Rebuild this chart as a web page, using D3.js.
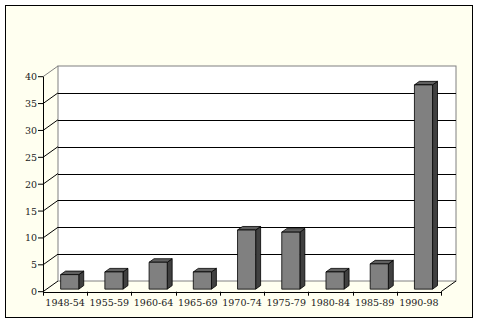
<!DOCTYPE html>
<html>
<head>
<meta charset="utf-8">
<script src="https://cdn.jsdelivr.net/npm/d3@7"></script>
<style>
	body { margin: 0; background: #fff; }
	svg { display: block; }
	text { font-family: "DejaVu Serif", serif; font-size: 9.5px; fill: #222; }
</style>
</head>
<body>
<svg id="chart" width="479" height="323"></svg>
<script>
// data
const periods = ["1948-54", "1955-59", "1960-64", "1965-69", "1970-74", "1975-79", "1980-84", "1985-89", "1990-98"];
const counts = [2.7, 3.2, 5, 3.2, 11, 10.6, 3.2, 4.7, 38];
const yTicks = [0, 5, 10, 15, 20, 25, 30, 35, 40];

const svg = d3.select("#chart");

// depth offset of the back wall
const dx = 15, dy = -10.7;

const x = d3.scaleBand().domain(periods).range([43, 441]).padding(0);
const y = d3.scaleLinear().domain([0, 40]).range([291.7, 76.7]);

// point on the chart at depth d (0 = front, 1 = back wall)
function pt(px, v, d) {
	return [px + dx * d, y(v) + dy * d];
}
function poly(points) {
	return "M" + points.map(p => p.join(",")).join("L") + "Z";
}

// frame
svg.append("rect")
	.attr("x", 5.5).attr("y", 5.5)
	.attr("width", 467).attr("height", 312)
	.attr("fill", "#fffff0")
	.attr("stroke", "#000");

const x0 = x.range()[0], x1 = x.range()[1];

// back wall
let bl = pt(x0, 0, 1), tr = pt(x1, 40, 1);
svg.append("rect")
	.attr("x", bl[0]).attr("y", tr[1])
	.attr("width", tr[0] - bl[0]).attr("height", bl[1] - tr[1])
	.attr("fill", "#fff")
	.attr("stroke", "#808080");

// grid lines on the back wall
svg.append("g").selectAll("line")
	.data(yTicks.filter(t => t > 0 && t < 40))
	.enter().append("line")
	.attr("x1", d => pt(x0, d, 1)[0])
	.attr("x2", d => pt(x1, d, 1)[0])
	.attr("y1", d => Math.round(pt(x0, d, 1)[1]) + 0.5)
	.attr("y2", d => Math.round(pt(x0, d, 1)[1]) + 0.5)
	.attr("stroke", "#000");

// diagonals from the value axis to the back wall
svg.append("g").selectAll("line")
	.data(yTicks)
	.enter().append("line")
	.attr("x1", d => pt(x0, d, 0)[0])
	.attr("y1", d => pt(x0, d, 0)[1])
	.attr("x2", d => pt(x0, d, 1)[0])
	.attr("y2", d => pt(x0, d, 1)[1])
	.attr("stroke", d => d == 40 ? "#808080" : "#000");

// right floor edge
svg.append("line")
	.attr("x1", pt(x1, 0, 0)[0]).attr("y1", pt(x1, 0, 0)[1])
	.attr("x2", pt(x1, 0, 1)[0]).attr("y2", pt(x1, 0, 1)[1])
	.attr("stroke", "#000");

// bars
const bw = x.bandwidth() * 0.41;
const f0 = 0.24, f1 = 0.57;
const bars = svg.append("g").selectAll("g")
	.data(periods.map((p, i) => ({ p: p, v: counts[i] })))
	.enter().append("g");

function left(d) { return x(d.p) + x.bandwidth() / 2 - bw / 2 + 1; }

bars.append("path") // side
	.attr("d", d => {
		let r = left(d) + bw;
		return poly([pt(r, 0, f0), pt(r, 0, f1), pt(r, d.v, f1), pt(r, d.v, f0)]);
	})
	.attr("fill", "#404040").attr("stroke", "#000").attr("stroke-width", 0.8);

bars.append("path") // top
	.attr("d", d => {
		let l = left(d), r = l + bw;
		return poly([pt(l, d.v, f0), pt(r, d.v, f0), pt(r, d.v, f1), pt(l, d.v, f1)]);
	})
	.attr("fill", "#606060").attr("stroke", "#000").attr("stroke-width", 0.8);

bars.append("path") // front
	.attr("d", d => {
		let l = left(d), r = l + bw;
		return poly([pt(l, 0, f0), pt(r, 0, f0), pt(r, d.v, f0), pt(l, d.v, f0)]);
	})
	.attr("fill", "#808080").attr("stroke", "#000").attr("stroke-width", 0.8);

// value axis
svg.append("line")
	.attr("x1", x0 + 0.5).attr("x2", x0 + 0.5)
	.attr("y1", y(40)).attr("y2", y(0))
	.attr("stroke", "#000");
svg.append("g").selectAll("line")
	.data(yTicks)
	.enter().append("line")
	.attr("x1", x0 - 5).attr("x2", x0)
	.attr("y1", d => y(d)).attr("y2", d => y(d))
	.attr("stroke", "#000");
svg.append("g").selectAll("text")
	.data(yTicks)
	.enter().append("text")
	.attr("x", x0 - 6)
	.attr("y", d => y(d) + 3.5)
	.attr("text-anchor", "end")
	.text(d => d);

// category axis
svg.append("line")
	.attr("x1", x0).attr("x2", x1)
	.attr("y1", Math.round(y(0)) + 0.5).attr("y2", Math.round(y(0)) + 0.5)
	.attr("stroke", "#000");
svg.append("g").selectAll("line")
	.data(periods.concat(["end"]))
	.enter().append("line")
	.attr("x1", (d, i) => Math.round(x0 + i * x.step()) + 0.5)
	.attr("x2", (d, i) => Math.round(x0 + i * x.step()) + 0.5)
	.attr("y1", y(0)).attr("y2", y(0) + 4)
	.attr("stroke", "#000");
svg.append("g").selectAll("text")
	.data(periods)
	.enter().append("text")
	.attr("x", d => x(d) + x.bandwidth() / 2)
	.attr("y", 306)
	.attr("text-anchor", "middle")
	.text(d => d);
</script>
</body>
</html>
